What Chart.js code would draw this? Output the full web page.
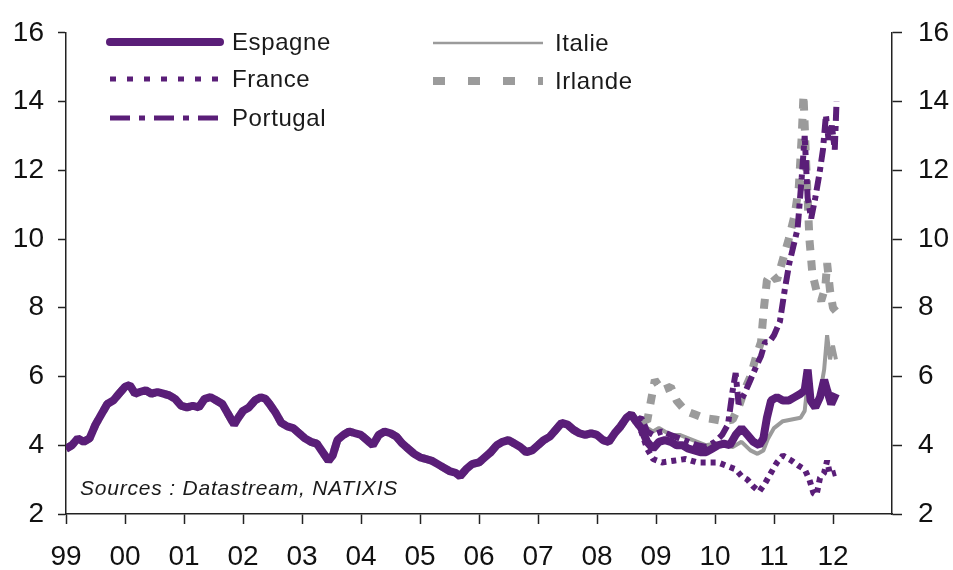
<!DOCTYPE html>
<html>
<head>
<meta charset="utf-8">
<script src="https://cdn.jsdelivr.net/npm/chart.js@4.4.0/dist/chart.umd.min.js"></script>
<style>
  html, body { margin: 0; padding: 0; background: #fff; }
  #wrap { width: 953px; height: 570px; position: relative; }
</style>
</head>
<body>
<div id="wrap"><canvas id="taux"></canvas></div>
<script>
// taux a 10 ans, [annee, %]
// tronc commun 1999-2008 (les courbes se confondent)
var core = [
  [1999.00,3.9],[1999.10,4.0],[1999.20,4.2],[1999.30,4.1],[1999.40,4.2],[1999.50,4.6],
  [1999.60,4.9],[1999.70,5.2],[1999.80,5.3],[1999.90,5.5],[2000.00,5.7],[2000.08,5.75],
  [2000.17,5.5],[2000.25,5.55],[2000.35,5.6],[2000.45,5.5],[2000.55,5.55],[2000.65,5.5],
  [2000.75,5.45],[2000.85,5.35],[2000.95,5.15],[2001.05,5.1],[2001.15,5.15],[2001.25,5.1],
  [2001.35,5.35],[2001.45,5.4],[2001.55,5.3],[2001.65,5.2],[2001.75,4.9],[2001.85,4.6],
  [2001.92,4.8],[2002.00,5.0],[2002.10,5.1],[2002.20,5.3],[2002.30,5.4],[2002.38,5.35],
  [2002.45,5.2],[2002.55,4.95],[2002.65,4.65],[2002.75,4.55],[2002.85,4.5],[2002.95,4.35],
  [2003.05,4.2],[2003.15,4.1],[2003.25,4.05],[2003.35,3.8],[2003.45,3.55],[2003.52,3.7],
  [2003.60,4.15],[2003.70,4.3],[2003.80,4.4],[2003.90,4.35],[2004.00,4.3],[2004.10,4.15],
  [2004.20,4.0],[2004.30,4.3],[2004.40,4.4],[2004.50,4.35],[2004.60,4.25],[2004.70,4.05],
  [2004.80,3.9],[2004.90,3.75],[2005.00,3.65],[2005.10,3.6],[2005.20,3.55],[2005.30,3.45],
  [2005.40,3.35],[2005.50,3.25],[2005.60,3.2],[2005.68,3.1],[2005.78,3.3],[2005.88,3.45],
  [2006.00,3.5],[2006.10,3.65],[2006.20,3.8],[2006.30,4.0],[2006.40,4.1],[2006.50,4.15],
  [2006.60,4.05],[2006.70,3.95],[2006.80,3.8],[2006.90,3.85],[2007.00,4.0],[2007.10,4.15],
  [2007.20,4.25],[2007.30,4.45],[2007.40,4.65],[2007.50,4.6],[2007.60,4.45],[2007.70,4.35],
  [2007.80,4.3],[2007.90,4.35],[2008.00,4.3],[2008.10,4.15],[2008.20,4.1],[2008.30,4.35],
  [2008.40,4.55],[2008.50,4.8],[2008.58,4.9],[2008.66,4.7]
];

var espagne = [
  [2008.75,4.5],[2008.85,4.1],[2008.95,3.9],[2009.05,4.1],[2009.15,4.15],[2009.25,4.1],
  [2009.35,4.0],[2009.45,4.0],[2009.55,3.9],[2009.65,3.85],[2009.75,3.8],[2009.85,3.8],
  [2009.95,3.9],[2010.05,4.0],[2010.15,4.05],[2010.25,4.0],[2010.35,4.3],[2010.45,4.5],
  [2010.55,4.3],[2010.65,4.1],[2010.75,4.0],[2010.82,4.2],[2010.88,4.8],[2010.95,5.3],
  [2011.05,5.4],[2011.15,5.3],[2011.25,5.3],[2011.35,5.4],[2011.45,5.5],[2011.52,5.6],
  [2011.57,6.2],[2011.62,5.3],[2011.70,5.1],[2011.78,5.4],[2011.85,5.9],[2011.90,5.6],
  [2011.97,5.2],[2012.05,5.5]
];

var france = [
  [2008.75,4.4],[2008.85,3.9],[2008.95,3.6],[2009.10,3.5],[2009.30,3.55],[2009.50,3.6],
  [2009.70,3.5],[2009.90,3.5],[2010.05,3.5],[2010.20,3.4],[2010.35,3.3],[2010.45,3.1],
  [2010.55,3.0],[2010.65,2.8],[2010.75,2.65],[2010.85,2.9],[2010.95,3.2],[2011.05,3.5],
  [2011.15,3.7],[2011.30,3.55],[2011.42,3.4],[2011.52,3.3],[2011.60,3.0],[2011.67,2.6],
  [2011.72,2.55],[2011.78,3.05],[2011.85,3.2],[2011.90,3.55],[2011.95,3.15],[2012.05,3.2]
];

var portugal = [
  [2008.75,4.8],[2008.85,4.4],[2008.95,4.3],[2009.10,4.4],[2009.25,4.3],[2009.40,4.2],
  [2009.55,4.1],[2009.70,4.0],[2009.85,3.95],[2010.00,4.1],[2010.12,4.3],[2010.22,4.6],
  [2010.30,5.6],[2010.35,6.1],[2010.40,5.2],[2010.50,5.5],[2010.60,5.9],[2010.70,6.3],
  [2010.78,6.6],[2010.85,7.0],[2010.92,7.0],[2011.00,7.2],[2011.10,7.6],[2011.18,8.5],
  [2011.26,9.3],[2011.33,9.8],[2011.40,10.3],[2011.47,11.8],[2011.52,13.0],[2011.57,11.2],
  [2011.63,10.6],[2011.70,11.2],[2011.77,11.9],[2011.83,12.6],[2011.88,13.6],[2011.93,12.8],
  [2011.98,13.3],[2012.03,12.6],[2012.06,14.0]
];

var italie = [
  [2008.75,4.8],[2008.85,4.5],[2008.95,4.4],[2009.05,4.5],[2009.15,4.4],[2009.25,4.3],
  [2009.40,4.3],[2009.55,4.2],[2009.70,4.1],[2009.85,4.0],[2010.00,4.05],[2010.15,4.0],
  [2010.30,3.95],[2010.45,4.1],[2010.60,3.85],[2010.72,3.75],[2010.82,3.85],[2010.90,4.2],
  [2011.00,4.5],[2011.15,4.7],[2011.30,4.75],[2011.45,4.8],[2011.52,5.0],[2011.57,5.8],
  [2011.62,5.2],[2011.70,5.1],[2011.78,5.5],[2011.85,6.2],[2011.90,7.2],[2011.95,6.5],
  [2012.00,6.9],[2012.05,6.5]
];

var irlande = [
  [2008.75,4.8],[2008.85,4.7],[2008.98,5.9],[2009.10,5.6],[2009.25,5.7],[2009.35,5.3],
  [2009.50,5.0],[2009.65,4.9],[2009.80,4.8],[2010.00,4.75],[2010.15,4.7],[2010.30,4.75],
  [2010.42,5.2],[2010.50,5.6],[2010.60,6.0],[2010.70,6.6],[2010.78,7.0],[2010.83,8.0],
  [2010.88,8.8],[2010.95,9.0],[2011.05,8.8],[2011.15,9.4],[2011.25,10.0],[2011.35,10.7],
  [2011.42,11.5],[2011.47,13.0],[2011.50,14.2],[2011.55,12.0],[2011.60,10.0],[2011.65,9.0],
  [2011.72,8.5],[2011.80,8.2],[2011.87,8.6],[2011.90,9.3],[2011.95,8.5],[2012.00,8.0],
  [2012.05,7.9]
];

var yTicks = [2, 4, 6, 8, 10, 12, 14, 16];
var source = 'Sources : Datastream, NATIXIS';

var violet = '#5a1e78';
var gris = '#9b9b9b';

function pts(tail) {
  return core.concat(tail).map(function (p) { return { x: p[0], y: p[1] }; });
}

// legende dessinee a la main (2 colonnes)
var legende = {
  id: 'legende',
  afterDraw: function (chart) {
    var c = chart.ctx;
    var rows = [
      { t: 'Espagne', x: 110, y: 42, col: violet, w: 8, dash: [], cap: 'round' },
      { t: 'France', x: 110, y: 79, col: violet, w: 5, dash: [6, 11], cap: 'butt' },
      { t: 'Portugal', x: 110, y: 118, col: violet, w: 5, dash: [20, 9, 6, 9], cap: 'butt' },
      { t: 'Italie', x: 433, y: 43, col: gris, w: 2.5, dash: [], cap: 'butt' },
      { t: 'Irlande', x: 433, y: 81, col: gris, w: 8, dash: [12, 23], cap: 'butt' }
    ];
    c.save();
    rows.forEach(function (r) {
      c.beginPath();
      c.strokeStyle = r.col;
      c.lineWidth = r.w;
      c.lineCap = r.cap;
      c.setLineDash(r.dash);
      c.moveTo(r.x, r.y);
      c.lineTo(r.x + 110, r.y);
      c.stroke();
      c.setLineDash([]);
      c.fillStyle = '#1a1a1a';
      c.font = '24px "Liberation Sans", Arial, sans-serif';
      c.letterSpacing = '0.6px';
      c.textBaseline = 'middle';
      c.fillText(r.t, r.x + 122, r.y + 1);
    });
    c.font = 'italic 21px "Liberation Sans", Arial, sans-serif';
    c.letterSpacing = '0.8px';
    c.textBaseline = 'alphabetic';
    c.fillText(source, 80, 495);
    c.restore();
  }
};

var tickFont = { family: '"Liberation Sans", Arial, sans-serif', size: 28 };

var taux = document.getElementById('taux').getContext('2d');

var graphe = new Chart(taux, {
  type: 'line',
  data: {
    datasets: [
      { label: 'Espagne', data: pts(espagne), borderColor: violet, borderWidth: 8, order: 1 },
      { label: 'France', data: pts(france), borderColor: violet, borderWidth: 6, borderDash: [5, 5], order: 3 },
      { label: 'Portugal', data: pts(portugal), borderColor: violet, borderWidth: 6, borderDash: [14, 5, 5, 5], order: 2 },
      { label: 'Italie', data: pts(italie), borderColor: gris, borderWidth: 4, order: 5 },
      { label: 'Irlande', data: pts(irlande), borderColor: gris, borderWidth: 8, borderDash: [10, 10], order: 4 }
    ]
  },
  options: {
    responsive: true,
    maintainAspectRatio: false,
    animation: false,
    layout: { padding: { top: 32, left: 0, right: 0, bottom: 0 } },
    elements: { point: { radius: 0 }, line: { tension: 0, fill: false, borderJoinStyle: 'bevel' } },
    plugins: { legend: { display: false }, tooltip: { enabled: false } },
    scales: {
      x: {
        type: 'linear',
        min: 1999,
        max: 2013,
        afterFit: function (s) { s.height = 56; },
        border: { display: true, color: '#222', width: 1.5 },
        grid: {
          drawOnChartArea: false,
          drawTicks: true,
          tickLength: 10,
          tickWidth: 1.5,
          tickColor: function (ctx) { return ctx.tick && ctx.tick.value > 2012 ? 'rgba(0,0,0,0)' : '#222'; }
        },
        ticks: {
          stepSize: 1,
          padding: 16,
          color: '#111',
          font: tickFont,
          maxRotation: 0,
          callback: function (v) { return v > 2012 ? '' : String(v % 100).padStart(2, '0'); }
        }
      },
      y: {
        position: 'left',
        min: 2,
        max: 16,
        afterFit: function (s) { s.width = 66; },
        afterBuildTicks: function (s) { s.ticks = yTicks.map(function (v) { return { value: v }; }); },
        border: { display: true, color: '#222', width: 1.5 },
        grid: { drawOnChartArea: false, tickLength: 8, tickWidth: 1.5, tickColor: '#222' },
        ticks: { padding: 14, color: '#111', font: tickFont }
      },
      y2: {
        position: 'right',
        min: 2,
        max: 16,
        afterFit: function (s) { s.width = 61; },
        afterBuildTicks: function (s) { s.ticks = yTicks.map(function (v) { return { value: v }; }); },
        border: { display: true, color: '#222', width: 1.5 },
        grid: { drawOnChartArea: false, tickLength: 10, tickWidth: 1.5, tickColor: '#222' },
        ticks: { padding: 16, color: '#111', font: tickFont }
      }
    }
  },
  plugins: [legende]
});
</script>
</body>
</html>
